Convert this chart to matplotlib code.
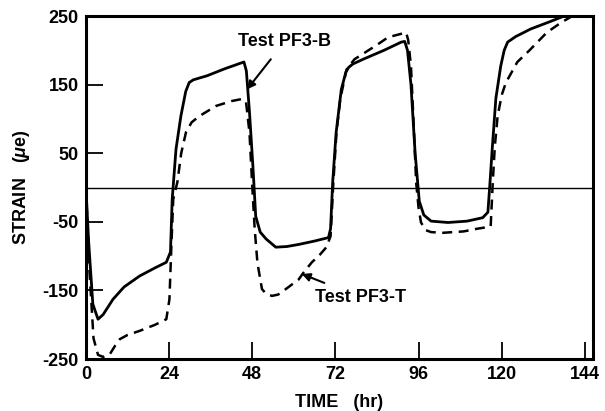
import matplotlib.pyplot as plt

plt.rcParams['font.family'] = ['Liberation Sans', 'DejaVu Sans']
plt.rcParams['font.weight'] = 'bold'
plt.rcParams['axes.unicode_minus'] = False
plt.rcParams['mathtext.fontset'] = 'custom'
plt.rcParams['mathtext.it'] = 'Liberation Sans:italic:bold'
plt.rcParams['mathtext.rm'] = 'Liberation Sans:bold'

# Test PF3-B (solid)
time_b = [0, 0.8, 2, 3.5, 5, 7.8, 11, 15.5, 20, 23.2, 24.4, 24.9, 26, 27.4, 28.8, 29.8,
          31, 35, 40, 45.6, 46.3, 47.2, 48.2, 49, 50.3, 52, 54.8, 58, 61.4, 66, 70,
          70.6, 71.2, 72.2, 73.7, 75.0, 75.8, 77, 80, 86, 91, 92, 92.8, 93.8, 95.0,
          96.2, 97.5, 99.6, 104.5, 110, 114.5, 116, 116.6, 117.3, 118.3, 119.7,
          120.7, 121.7, 124, 128.3, 134, 141]
strain_b = [0, -80, -170, -192, -185, -163, -145, -129, -117, -109, -94, -17, 56,
            104, 140, 153, 157, 163, 173, 183, 170, 110, 30, -42, -65, -75, -87,
            -86, -83, -78, -73, -60, 7, 80, 143, 168, 175, 180, 187, 200, 212, 213,
            200, 150, 50, -20, -40, -49, -51, -49, -44, -36, 7, 60, 130, 177, 200,
            212, 220, 231, 242, 256]

# Test PF3-T (dashed)
time_t = [0, 1, 2.2, 3.5, 5, 6.9, 8.5, 9.8, 12, 15.5, 20, 23.2, 24.1, 24.7, 25.2,
          26.4, 27.5, 28.9, 30.5, 32.7, 37.6, 42, 45, 46.2, 47.2, 48, 48.7, 49.5,
          50.8, 52, 53.7, 55.5, 57.7, 61.4, 62.8, 65.2, 67.5, 69.4, 70.6, 71.4,
          72.3, 73.4, 75.2, 77.5, 80.6, 84, 87.2, 92.4, 93, 93.8, 94.6, 95.3, 96.0,
          96.7, 98, 99.6, 103, 109, 113, 116.8, 117.4, 118.0, 118.8, 120, 121.2,
          124.5, 128, 133, 137, 141, 144]
strain_t = [0, -120, -220, -244, -247, -243, -230, -221, -215, -209, -200, -192,
            -163, -80, -17, 8, 50, 81, 95, 104, 119, 126, 129, 125, 80, 2, -60,
            -110, -148, -155, -158, -156, -148, -134, -124, -109, -98, -87, -71, 7,
            80, 129, 172, 187, 197, 208, 219, 226, 215, 177, 90, 7, -30, -51, -62,
            -65, -66, -64, -60, -57, 7, 60, 104, 135, 153, 183, 200, 226, 240, 252, 258]

xticks = [0, 24, 48, 72, 96, 120, 144]
yticks = [-250, -150, -50, 50, 150, 250]

fig = plt.figure(figsize=(6.05, 4.11), dpi=100)
ax = fig.add_axes([0.142, 0.1265, 0.838, 0.8345])

ax.plot(time_b, strain_b, color='black', lw=2.0, solid_joinstyle='round')
ax.plot(time_t, strain_t, color='black', lw=1.8, dashes=(4, 2.6))
ax.axhline(0, color='black', lw=1.0)

ax.set_xlim(0, 146.3)
ax.set_ylim(-250, 250)
ax.set_xticks(xticks)
ax.set_yticks(yticks)
ax.tick_params(direction='in', length=12, width=1.3, labelsize=13, pad=5)
for lbl in ax.get_xticklabels() + ax.get_yticklabels():
    lbl.set_fontweight('bold')
for sp in ax.spines.values():
    sp.set_linewidth(2.2)

ax.set_xlabel('TIME   (hr)', fontsize=13, fontweight='bold', labelpad=8)
ax.set_ylabel(r'STRAIN   ($\mu$e)', fontsize=13, fontweight='bold', labelpad=8)

ax.annotate('Test PF3-B', xy=(46.5, 143), xytext=(57.4, 213), fontsize=13,
            fontweight='bold', ha='center', va='center',
            arrowprops=dict(arrowstyle='-|>', color='black', lw=1.5,
                            shrinkA=6, shrinkB=0, mutation_scale=12))
ax.annotate('Test PF3-T', xy=(62.3, -126), xytext=(79.2, -160), fontsize=13,
            fontweight='bold', ha='center', va='center',
            arrowprops=dict(arrowstyle='-|>', color='black', lw=1.5,
                            shrinkA=6, shrinkB=0, mutation_scale=12))

fig.savefig('out.png', dpi=100)
